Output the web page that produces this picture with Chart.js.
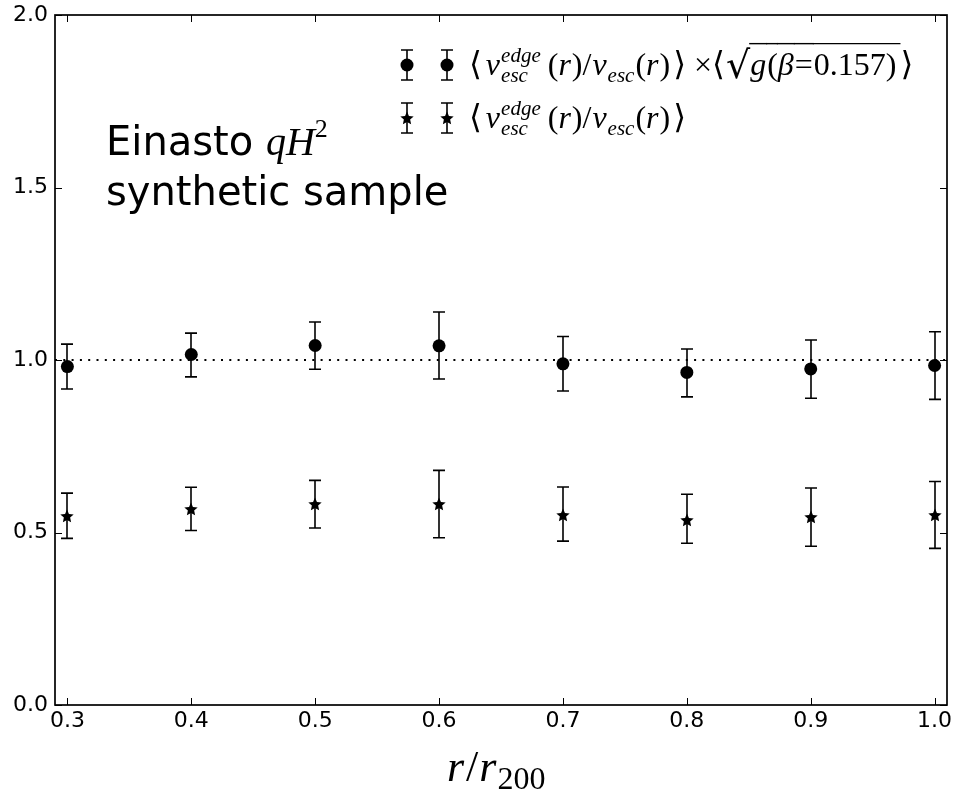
<!DOCTYPE html>
<html><head><meta charset="utf-8">
<script src="https://cdn.jsdelivr.net/npm/chart.js@4/dist/chart.umd.min.js"></script>
<style>html,body{margin:0;padding:0;background:#fff}#wrap{width:958px;height:792px}</style>
</head><body><div id="wrap"><canvas id="c" width="958" height="792"></canvas></div>
<script>
// ---- data ----
const radii = [0.3, 0.4, 0.5, 0.6, 0.7, 0.8, 0.9, 1.0];
const corrMean = [0.981, 1.016, 1.042, 1.041, 0.989, 0.964, 0.974, 0.984];
const corrLow  = [0.916, 0.951, 0.973, 0.945, 0.910, 0.893, 0.889, 0.886];
const corrHigh = [1.046, 1.078, 1.110, 1.139, 1.068, 1.032, 1.058, 1.082];
const rawMean  = [0.549, 0.568, 0.584, 0.584, 0.552, 0.537, 0.544, 0.552];
const rawLow   = [0.483, 0.506, 0.513, 0.485, 0.475, 0.469, 0.460, 0.454];
const rawHigh  = [0.614, 0.631, 0.651, 0.680, 0.632, 0.611, 0.629, 0.648];
const xTicks = [0.3, 0.4, 0.5, 0.6, 0.7, 0.8, 0.9, 1.0];
const yTicks = [0.0, 0.5, 1.0, 1.5, 2.0];
const refValue = 1.0;

// filled star point style
function makeStar(r) {
  const c = document.createElement('canvas');
  const s = Math.ceil(r * 2 + 2);
  c.width = s; c.height = s;
  const g = c.getContext('2d');
  g.fillStyle = '#000';
  g.beginPath();
  for (let i = 0; i < 10; i++) {
    const rr = i % 2 === 0 ? r : r * 0.47;
    const a = -Math.PI / 2 + i * Math.PI / 5;
    const px = s / 2 + rr * Math.cos(a), py = s / 2 + rr * Math.sin(a) + 0.6;
    i === 0 ? g.moveTo(px, py) : g.lineTo(px, py);
  }
  g.closePath(); g.fill();
  return c;
}
const starImg = makeStar(7);

const SANS = 'DejaVu Sans';
const SERIF = 'Liberation Serif';

function drawRich(ctx, x, y, parts) {
  for (const p of parts) {
    if (p.stack) {
      let w = 0;
      for (const q of p.stack) {
        ctx.font = q.f; ctx.fillText(q.t, x, y + q.dy);
        w = Math.max(w, ctx.measureText(q.t).width);
      }
      x += w + (p.gap || 0);
    } else {
      ctx.font = p.f;
      ctx.fillText(p.t, x + (p.dx || 0), y + (p.dy || 0));
      const w = ctx.measureText(p.t).width + (p.dx || 0) + (p.gap || 0);
      if (p.over) {
        ctx.save(); ctx.lineWidth = 1.4; ctx.beginPath();
        ctx.moveTo(x - 1, y - p.over); ctx.lineTo(x + w, y - p.over); ctx.stroke(); ctx.restore();
      }
      x += w;
    }
  }
  return x;
}

function mathParts(S, s, withFactor) {
  const R = S + 'px "' + SERIF + '"';
  const I = 'italic ' + S + 'px "' + SERIF + '"';
  const Is = 'italic ' + s + 'px "' + SERIF + '"';
  const B = (S + 1) + 'px "DejaVu Sans"';
  const parts = [
    {t: '\u27E8', f: B, gap: 4},
    {t: 'v', f: I, gap: 1},
    {stack: [{t: 'edge', f: Is, dy: -13}, {t: 'esc', f: Is, dy: 7}], gap: 7},
    {t: '(', f: R}, {t: 'r', f: I, gap: 1}, {t: ')/', f: R, gap: 1},
    {t: 'v', f: I, gap: 1},
    {stack: [{t: 'esc', f: Is, dy: 7}], gap: 1},
    {t: '(', f: R}, {t: 'r', f: I, gap: 1}, {t: ')', f: R, gap: 3},
    {t: '\u27E9', f: B}
  ];
  if (withFactor) {
    const ov = S * 0.98;
    parts.push({t: ' \u00D7', f: R});
    parts.push({t: '\u27E8', f: B, gap: 1});
    parts.push({t: '\u221A', f: (S + 6) + 'px "DejaVu Sans"', dy: 3});
    parts.push({t: 'g', f: I, over: ov, gap: 1});
    parts.push({t: '(', f: R, over: ov});
    parts.push({t: '\u03B2', f: I, over: ov, gap: 1});
    parts.push({t: '=', f: R, over: ov, gap: 1});
    parts.push({t: '0.157)', f: R, over: ov, gap: 4});
    parts.push({t: '\u27E9', f: B});
  }
  return parts;
}

const framePlugin = {
  id: 'frame',
  beforeDatasetsDraw(chart) {
    const {ctx, chartArea: a, scales: {x, y}} = chart;
    ctx.save();
    const yr = y.getPixelForValue(refValue);
    ctx.strokeStyle = '#000'; ctx.lineWidth = 2; ctx.setLineDash([2, 6.3]);
    ctx.beginPath(); ctx.moveTo(a.left, yr); ctx.lineTo(a.right, yr); ctx.stroke();
    ctx.setLineDash([]);
    ctx.lineWidth = 1.6;
    const bars = (lo, hi) => {
      radii.forEach((r, i) => {
        const px = Math.round(x.getPixelForValue(r));
        const p1 = y.getPixelForValue(lo[i]), p2 = y.getPixelForValue(hi[i]);
        ctx.beginPath();
        ctx.moveTo(px, p1); ctx.lineTo(px, p2);
        ctx.moveTo(px - 6, p1); ctx.lineTo(px + 6, p1);
        ctx.moveTo(px - 6, p2); ctx.lineTo(px + 6, p2);
        ctx.stroke();
      });
    };
    bars(corrLow, corrHigh);
    bars(rawLow, rawHigh);
    ctx.restore();
    ctx.imageSmoothingEnabled = false;
  },
  afterDraw(chart) {
    const {ctx, chartArea: a, scales: {x, y}} = chart;
    ctx.save();
    ctx.imageSmoothingEnabled = false;
    ctx.strokeStyle = '#000'; ctx.fillStyle = '#000';
    ctx.lineWidth = 1.7;
    ctx.strokeRect(a.left, a.top, a.right - a.left, a.bottom - a.top);
    ctx.lineWidth = 1;
    const T = 7;
    xTicks.forEach(v => {
      const px = Math.round(x.getPixelForValue(v)) + 0.5;
      ctx.beginPath();
      ctx.moveTo(px, a.bottom); ctx.lineTo(px, a.bottom - T);
      ctx.moveTo(px, a.top); ctx.lineTo(px, a.top + T);
      ctx.stroke();
    });
    yTicks.forEach(v => {
      const py = Math.round(y.getPixelForValue(v)) + 0.5;
      ctx.beginPath();
      ctx.moveTo(a.left, py); ctx.lineTo(a.left + T, py);
      ctx.moveTo(a.right, py); ctx.lineTo(a.right - T, py);
      ctx.stroke();
    });
    ctx.textBaseline = 'alphabetic';
    ctx.textAlign = 'left';
    drawRich(ctx, 106, 155, [
      {t: 'Einasto ', f: '40px "' + SANS + '"'},
      {t: 'qH', f: 'italic 40px "' + SERIF + '"'},
      {t: '2', f: '26px "' + SERIF + '"', dy: -18}
    ]);
    ctx.font = '40px "' + SANS + '"';
    ctx.fillText('synthetic sample', 106, 205);

    const rows = [{y: 65, marker: 'circle', f: true}, {y: 118, marker: 'star', f: false}];
    rows.forEach(rw => {
      [407, 447].forEach(mx => {
        ctx.lineWidth = 1.6;
        ctx.beginPath();
        ctx.moveTo(mx, rw.y - 15); ctx.lineTo(mx, rw.y + 15);
        ctx.moveTo(mx - 6, rw.y - 15); ctx.lineTo(mx + 6, rw.y - 15);
        ctx.moveTo(mx - 6, rw.y + 15); ctx.lineTo(mx + 6, rw.y + 15);
        ctx.stroke();
        if (rw.marker === 'circle') {
          ctx.beginPath(); ctx.arc(mx, rw.y, 6.5, 0, Math.PI * 2); ctx.fill();
        } else {
          ctx.drawImage(starImg, Math.round(mx - starImg.width / 2), Math.round(rw.y - starImg.height / 2));
        }
      });
      drawRich(ctx, 469, rw.y + 10, mathParts(32, 21, rw.f));
    });

    drawRich(ctx, 447, 781, [
      {t: 'r', f: 'italic 44px "' + SERIF + '"', gap: 2},
      {t: '/', f: '44px "' + SERIF + '"', gap: 1},
      {t: 'r', f: 'italic 44px "' + SERIF + '"', gap: 1},
      {t: '200', f: '32px "' + SERIF + '"', dy: 8}
    ]);
    ctx.restore();
  }
};

const tickFont = {family: SANS, size: 22};
new Chart(document.getElementById('c'), {
  type: 'scatter',
  data: {
    datasets: [
      {label: 'corrected', data: radii.map((r, i) => ({x: r, y: corrMean[i]})),
       pointStyle: 'circle', pointRadius: 6.5, backgroundColor: '#000', borderColor: '#000', borderWidth: 0},
      {label: 'raw', data: radii.map((r, i) => ({x: r, y: rawMean[i]})),
       pointStyle: starImg, pointRadius: 7, backgroundColor: '#000', borderColor: '#000'}
    ]
  },
  options: {
    responsive: false, animation: false, devicePixelRatio: 1,
    layout: {padding: {top: 15, right: 11, left: 0, bottom: 0}},
    plugins: {legend: {display: false}, tooltip: {enabled: false}},
    events: [],
    scales: {
      x: {
        type: 'linear', min: 0.29, max: 1.01,
        afterBuildTicks: s => { s.ticks = xTicks.map(v => ({value: v})); },
        afterFit: s => { s.height = 87; s.paddingLeft = 0; s.paddingRight = 0; },
        grid: {display: false, drawTicks: false},
        border: {display: false},
        ticks: {font: tickFont, color: '#000', padding: 3, maxRotation: 0, autoSkip: false,
                callback: v => Number(v).toFixed(1)}
      },
      y: {
        type: 'linear', min: 0, max: 2,
        afterBuildTicks: s => { s.ticks = yTicks.map(v => ({value: v})); },
        afterFit: s => { s.width = 55; s.paddingTop = 0; s.paddingBottom = 0; },
        grid: {display: false, drawTicks: false},
        border: {display: false},
        ticks: {font: tickFont, color: '#000', padding: 7, autoSkip: false,
                callback: v => Number(v).toFixed(1)}
      }
    }
  },
  plugins: [framePlugin]
});
</script>
</body></html>
